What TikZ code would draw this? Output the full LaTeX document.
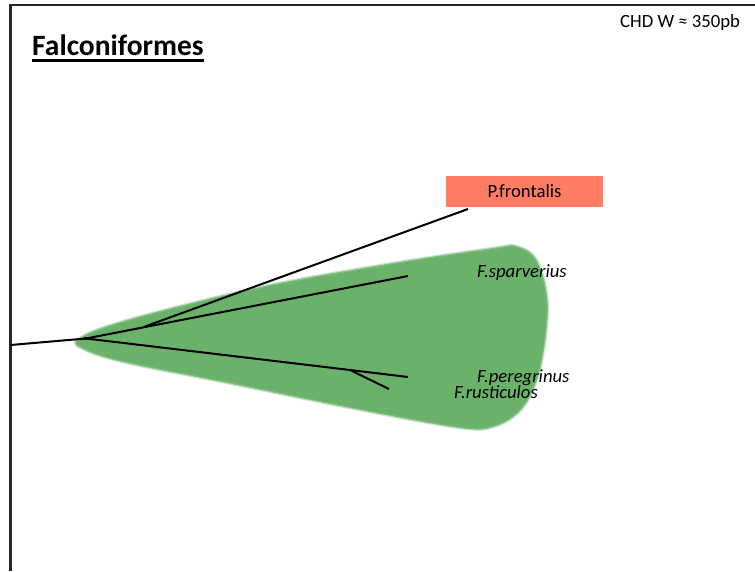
\documentclass[tikz,border=0pt]{standalone}
\usepackage{fontspec}
\setmainfont{Carlito}
\begin{document}
\begin{tikzpicture}[x=1pt,y=-1pt,
  branch/.style={line width=2pt,black},
  frame/.style={line width=2.2pt,black!85},
  taxon/.style={font=\fontsize{18.7}{22}\selectfont\itshape,anchor=base west,inner sep=0pt},
  outgroup/.style={fill=salmonred,draw=none,minimum width=157pt,minimum height=31pt,
    inner sep=0pt,font=\fontsize{18.7}{22}\selectfont},
  clade/.style={fill=cladegreen,draw=none}]
\definecolor{cladegreen}{RGB}{106,178,106}
\definecolor{salmonred}{RGB}{255,124,100}
\useasboundingbox (0,0) rectangle (755,571);
\fill[white] (0,0) rectangle (755,571);

% page frame (left and top edges)
\draw[frame] (10.5,571) -- (10.5,5) -- (755,5);

% title and gene note
\node[anchor=base west,inner sep=0pt,font=\fontsize{29.5}{34}\selectfont\bfseries] (title) at (32,55) {Falconiformes};
\draw[line width=2.4pt] (title.base west) ++(0,5.5) -- (title.base east |- 0,60.5);
\node[anchor=base west,inner sep=0pt,font=\fontsize{18.7}{22}\selectfont] (gene) at (620,27) {CHD W ≈ 350pb};

% Falco clade
\path[clade,draw=cladegreen!70,line width=2.5pt,draw opacity=0.5]
  plot[smooth cycle,tension=0.6] coordinates {
  (78,339) (127,320) (260,287) (393,263) (493,248) (516,246) (536,259)
  (547,295) (546,335) (537,380) (520,411) (493,427) (460,428)
  (360,410) (227,383) (127,363) (85,350)};

% outgroup label
\node[outgroup] (pfront) at (524.5,191.5) {P.frontalis};

% tree coordinates
\coordinate (base) at (10.5,345);
\coordinate (root) at (86,338.5);
\coordinate (spar) at (408,276);
\coordinate (fork) at (145,326.5);
\coordinate (pf) at (468,209);
\coordinate (inner) at (350,370);
\coordinate (pere) at (408,377);
\coordinate (rust) at (389,389);

\draw[branch] (base) -- (root);
\draw[branch] (root) -- (spar);
\draw[branch] (fork) -- (pf);
\draw[branch] (root) -- (inner) -- (pere);
\draw[branch] (inner) -- (rust);
\fill (root) ++(-2,-1.6) rectangle ++(4,3.2);

% taxon labels
\node[taxon] (lspar) at (477,277) {F.sparverius};
\node[taxon] (lpere) at (477,382) {F.peregrinus};
\node[taxon] (lrust) at (454,398) {F.rusticulos};
\end{tikzpicture}
\end{document}
